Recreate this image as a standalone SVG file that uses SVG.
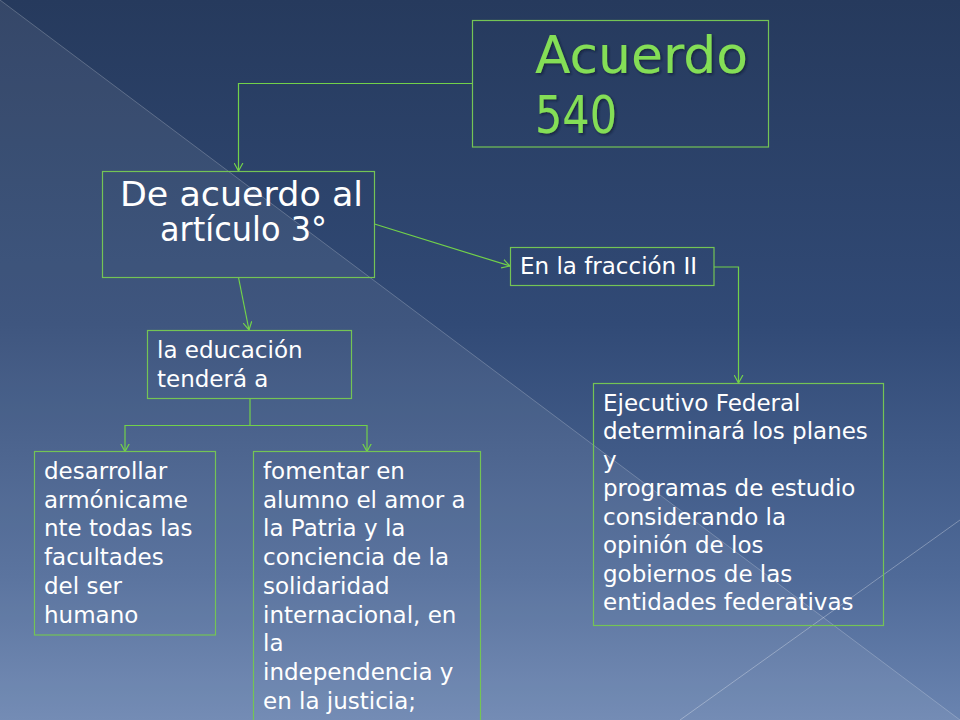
<svg xmlns="http://www.w3.org/2000/svg" width="960" height="720" viewBox="0 0 960 720">
  <defs>
    <linearGradient id="bg" x1="0" y1="0" x2="0" y2="1">
      <stop offset="0" stop-color="#263a5d"/>
      <stop offset="0.45" stop-color="#314a76"/>
      <stop offset="0.8" stop-color="#4f6a98"/>
      <stop offset="1" stop-color="#6a84b0"/>
    </linearGradient>
    <filter id="shadow" x="-10%" y="-20%" width="130%" height="150%">
      <feDropShadow dx="1.5" dy="1.5" stdDeviation="0.8" flood-color="#111c30" flood-opacity="0.75"/>
    </filter>
    <marker id="arr" viewBox="0 0 8 10" refX="8" refY="5" markerWidth="8" markerHeight="10" markerUnits="userSpaceOnUse" orient="auto">
      <path d="M0,0.6 L8,5 L0,9.4" fill="none" stroke="#72d14a" stroke-width="1.2"/>
    </marker>
    <style>
      .box { fill: none; stroke: #74c455; stroke-width: 1.2; }
      .con { fill: none; stroke: #72d14a; stroke-width: 1.2; }
      .txt { font-family: "DejaVu Sans", "Liberation Sans", sans-serif; fill: #ffffff; font-size: 23px; }
      .big { font-family: "DejaVu Sans", "Liberation Sans", sans-serif; fill: #ffffff; font-size: 33px; text-anchor: middle; }
      .title { font-family: "DejaVu Sans", "Liberation Sans", sans-serif; font-size: 52px; fill: #84de57; }
    </style>
  </defs>

  <!-- background -->
  <rect x="0" y="0" width="960" height="720" fill="url(#bg)"/>
  <polygon points="0,0 960,720 0,720" fill="#ffffff" fill-opacity="0.07"/>
  <line x1="0" y1="0" x2="960" y2="720" stroke="#ffffff" stroke-opacity="0.22" stroke-width="1"/>
  <line x1="680" y1="720" x2="960" y2="520" stroke="#ffffff" stroke-opacity="0.3" stroke-width="1"/>

  <!-- connectors -->
  <g id="connectors">
    <polyline class="con" points="472.5,83.5 238.5,83.5 238.5,171" marker-end="url(#arr)"/>
    <line class="con" x1="374.5" y1="224" x2="510" y2="266" marker-end="url(#arr)"/>
    <polyline class="con" points="714,267 738.5,267 738.5,383" marker-end="url(#arr)"/>
    <line class="con" x1="238.5" y1="277.5" x2="249" y2="330" marker-end="url(#arr)"/>
    <line class="con" x1="250" y1="398.5" x2="250" y2="425.5" stroke-width="2"/>
    <line class="con" x1="124.5" y1="425.5" x2="367.5" y2="425.5"/>
    <line class="con" x1="125" y1="425.5" x2="125" y2="451.5" marker-end="url(#arr)"/>
    <line class="con" x1="367" y1="425.5" x2="367" y2="451.5" marker-end="url(#arr)"/>
  </g>

  <!-- nodes -->
  <g id="acuerdo540">
    <rect class="box" x="472.5" y="20.5" width="296" height="126.5"/>
    <g filter="url(#shadow)">
      <text class="title" x="535" y="72.5" textLength="213" lengthAdjust="spacingAndGlyphs">Acuerdo</text>
      <text class="title" x="535" y="133" textLength="82" lengthAdjust="spacingAndGlyphs">540</text>
    </g>
  </g>

  <g id="articulo3">
    <rect class="box" x="102.5" y="171.5" width="272" height="106"/>
    <text class="big" x="241.5" y="205.5" textLength="243" lengthAdjust="spacingAndGlyphs">De acuerdo al</text>
    <text class="big" x="243.5" y="241" textLength="167" lengthAdjust="spacingAndGlyphs">artículo 3°</text>
  </g>

  <g id="fraccion">
    <rect class="box" x="510.5" y="247.5" width="203.5" height="38"/>
    <text class="txt" x="520" y="274">En la fracción II</text>
  </g>

  <g id="educacion">
    <rect class="box" x="147.5" y="330.5" width="204" height="68"/>
    <text class="txt" x="157" y="358">la educación</text>
    <text class="txt" x="157" y="387">tenderá a</text>
  </g>

  <g id="desarrollar">
    <rect class="box" x="34.5" y="451.5" width="181" height="183.5"/>
    <text class="txt" x="44" y="479">desarrollar</text>
    <text class="txt" x="44" y="507.7">armónicame</text>
    <text class="txt" x="44" y="536.4">nte todas las</text>
    <text class="txt" x="44" y="565.1">facultades</text>
    <text class="txt" x="44" y="593.8">del ser</text>
    <text class="txt" x="44" y="622.5">humano</text>
  </g>

  <g id="fomentar">
    <rect class="box" x="253.5" y="451.5" width="227" height="280"/>
    <text class="txt" x="263" y="479">fomentar en</text>
    <text class="txt" x="263" y="507.7">alumno el amor a</text>
    <text class="txt" x="263" y="536.4">la Patria y la</text>
    <text class="txt" x="263" y="565.1">conciencia de la</text>
    <text class="txt" x="263" y="593.8">solidaridad</text>
    <text class="txt" x="263" y="622.5">internacional, en</text>
    <text class="txt" x="263" y="651.2">la</text>
    <text class="txt" x="263" y="679.9">independencia y</text>
    <text class="txt" x="263" y="708.6">en la justicia;</text>
  </g>

  <g id="ejecutivo">
    <rect class="box" x="593.5" y="383.5" width="290" height="242"/>
    <text class="txt" x="603" y="410.5">Ejecutivo Federal</text>
    <text class="txt" x="603" y="439">determinará los planes</text>
    <text class="txt" x="603" y="467.5">y</text>
    <text class="txt" x="603" y="496">programas de estudio</text>
    <text class="txt" x="603" y="524.5">considerando la</text>
    <text class="txt" x="603" y="553">opinión de los</text>
    <text class="txt" x="603" y="581.5">gobiernos de las</text>
    <text class="txt" x="603" y="610">entidades federativas</text>
  </g>
</svg>
